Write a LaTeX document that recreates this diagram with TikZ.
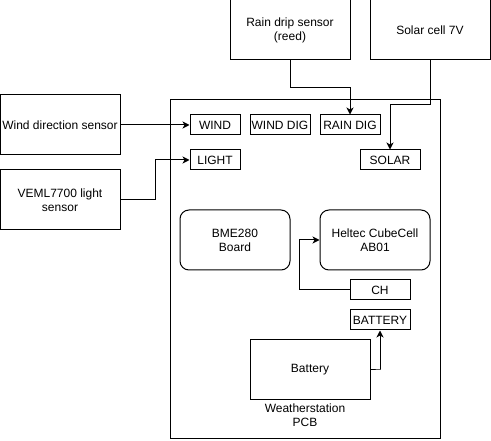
\documentclass[tikz,border=0pt]{standalone}
\usepackage{fontspec}
\setmainfont{Liberation Sans}
\usetikzlibrary{arrows.meta}
\tikzset{
	sensor/.style={draw, minimum width=120pt, minimum height=60pt, align=center, inner sep=0pt},
	module/.style={draw, rounded corners=9pt, minimum width=110pt, minimum height=60pt, align=center, inner sep=0pt},
	port/.style={draw, minimum width=#1, minimum height=20pt, inner sep=0pt},
	port/.default=60pt,
	wire/.style={-{Stealth[length=7pt,width=7pt,inset=2pt]}}
}

\begin{document}
\begin{tikzpicture}[x=1pt, y=-1pt, line width=1pt, font=\fontsize{12pt}{14pt}\selectfont]
	\useasboundingbox (0,0) rectangle (491,441);
	% outside sensors
	\node[sensor] (rain) at (290,30) {Rain drip sensor\\(reed)};
	\node[sensor] (solar) at (430,30) {Solar cell 7V};
	\node[sensor] (wind) at (60,125) {Wind direction sensor};
	\node[sensor] (veml) at (60,200) {VEML7700 light\\sensor};
	% the pcb
	\node[draw, minimum width=270pt, minimum height=339pt, inner sep=0pt] (pcb) at (305,269.5) {};
	\node[align=center] (pcblabel) at (305,415) {Weatherstation\\PCB};
	\node[port=50pt] (pwind) at (215,125) {WIND};
	\node[port] (pwinddig) at (280,125) {WIND DIG};
	\node[port] (prain) at (350,125) {RAIN DIG};
	\node[port=50pt] (plight) at (215,160) {LIGHT};
	\node[port] (psolar) at (390,160) {SOLAR};
	\node[module] (bme) at (235,240) {BME280\\Board};
	\node[module] (heltec) at (375,240) {Heltec CubeCell\\AB01};
	\node[port] (pch) at (380,290) {CH};
	\node[port] (pbat) at (380,320) {BATTERY};
	\node[sensor] (battery) at (310,370) {Battery};
	% wires
	\draw[wire] (rain.south) -- ++(0,27) -| (prain.north);
	\draw[wire] (solar.south) -- ++(0,44) -| (psolar.north);
	\draw[wire] (wind.east) -- (pwind.west);
	\draw[wire] (veml.east) -- ++(35,0) |- (plight.west);
	\draw[wire] (pch.west) -- ++(-50,0) |- (heltec.west);
	\draw[wire] (battery.east) -- ++(10,0) -| (pbat.south);
\end{tikzpicture}
\end{document}
